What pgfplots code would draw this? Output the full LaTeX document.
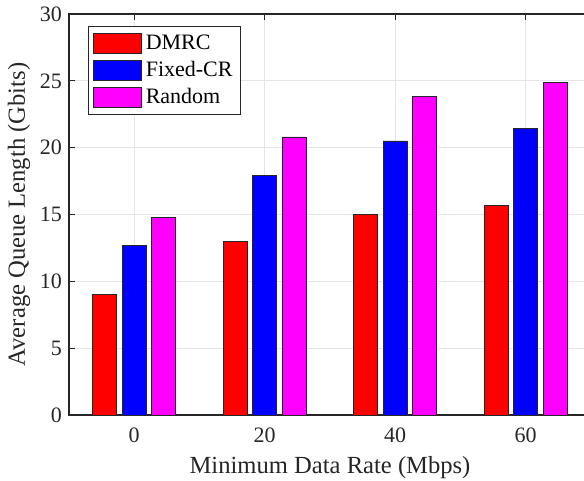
\documentclass[border=0pt]{standalone}
\usepackage{fontspec}
\setmainfont{Liberation Serif}
\usepackage{pgfplots}
\pgfplotsset{compat=1.18}
\definecolor{axgray}{gray}{0.15}
\definecolor{gridgray}{gray}{0.9}
\definecolor{cred}{RGB}{255,0,0}
\definecolor{cblue}{RGB}{0,0,255}
\definecolor{cmag}{RGB}{255,0,255}
\begin{document}
\begin{tikzpicture}
\begin{axis}[
  scale only axis,
  width=261pt, height=200.5pt,
  at={(0,0)}, anchor=south west,
  xmin=-10, xmax=70, ymin=0, ymax=30,
  xtick={0,20,40,60}, ytick={0,5,...,30},
  ybar, bar width=12pt,
  grid=major, major grid style={gridgray, line width=0.6pt},
  axis line style={axgray, line width=0.7pt},
  tick style={axgray, line width=0.6pt},
  tick align=inside, major tick length=3pt,
  /pgf/number format/assume math mode=true,
  ticklabel style={font=\fontsize{11}{13}\selectfont, text=black!85},
  xticklabel style={yshift=-3pt},
  label style={font=\fontsize{12.3}{14}\selectfont, text=black!85},
  xlabel={Minimum Data Rate (Mbps)},
  ylabel={Average Queue Length (Gbits)},
  xlabel style={yshift=0pt},
  ylabel style={yshift=-2pt},
  legend cell align=left,
  legend style={at={(0.0364,0.970)}, anchor=north west, draw=axgray, line width=0.6pt,
    font=\fontsize{11}{13}\selectfont, row sep=0.5pt, inner xsep=2pt, inner ysep=2pt},
  legend image code/.code={\draw[#1] (0pt,-5pt) rectangle (24pt,5pt);},
]
\addplot[fill=cred, draw=axgray, bar shift=-14.75pt] coordinates {(0,9.0) (20,13.0) (40,15.0) (60,15.7)};
\addplot[fill=cblue, draw=axgray, bar shift=0pt] coordinates {(0,12.7) (20,17.9) (40,20.5) (60,21.45)};
\addplot[fill=cmag, draw=axgray, bar shift=14.75pt] coordinates {(0,14.8) (20,20.8) (40,23.8) (60,24.9)};
\legend{DMRC, Fixed-CR, Random}
\end{axis}
\pgfresetboundingbox
\useasboundingbox ([shift={(-34.5pt,-33pt)}]current axis.south west) rectangle ([shift={(257.5pt,207.5pt)}]current axis.south west);
\end{tikzpicture}
\end{document}
